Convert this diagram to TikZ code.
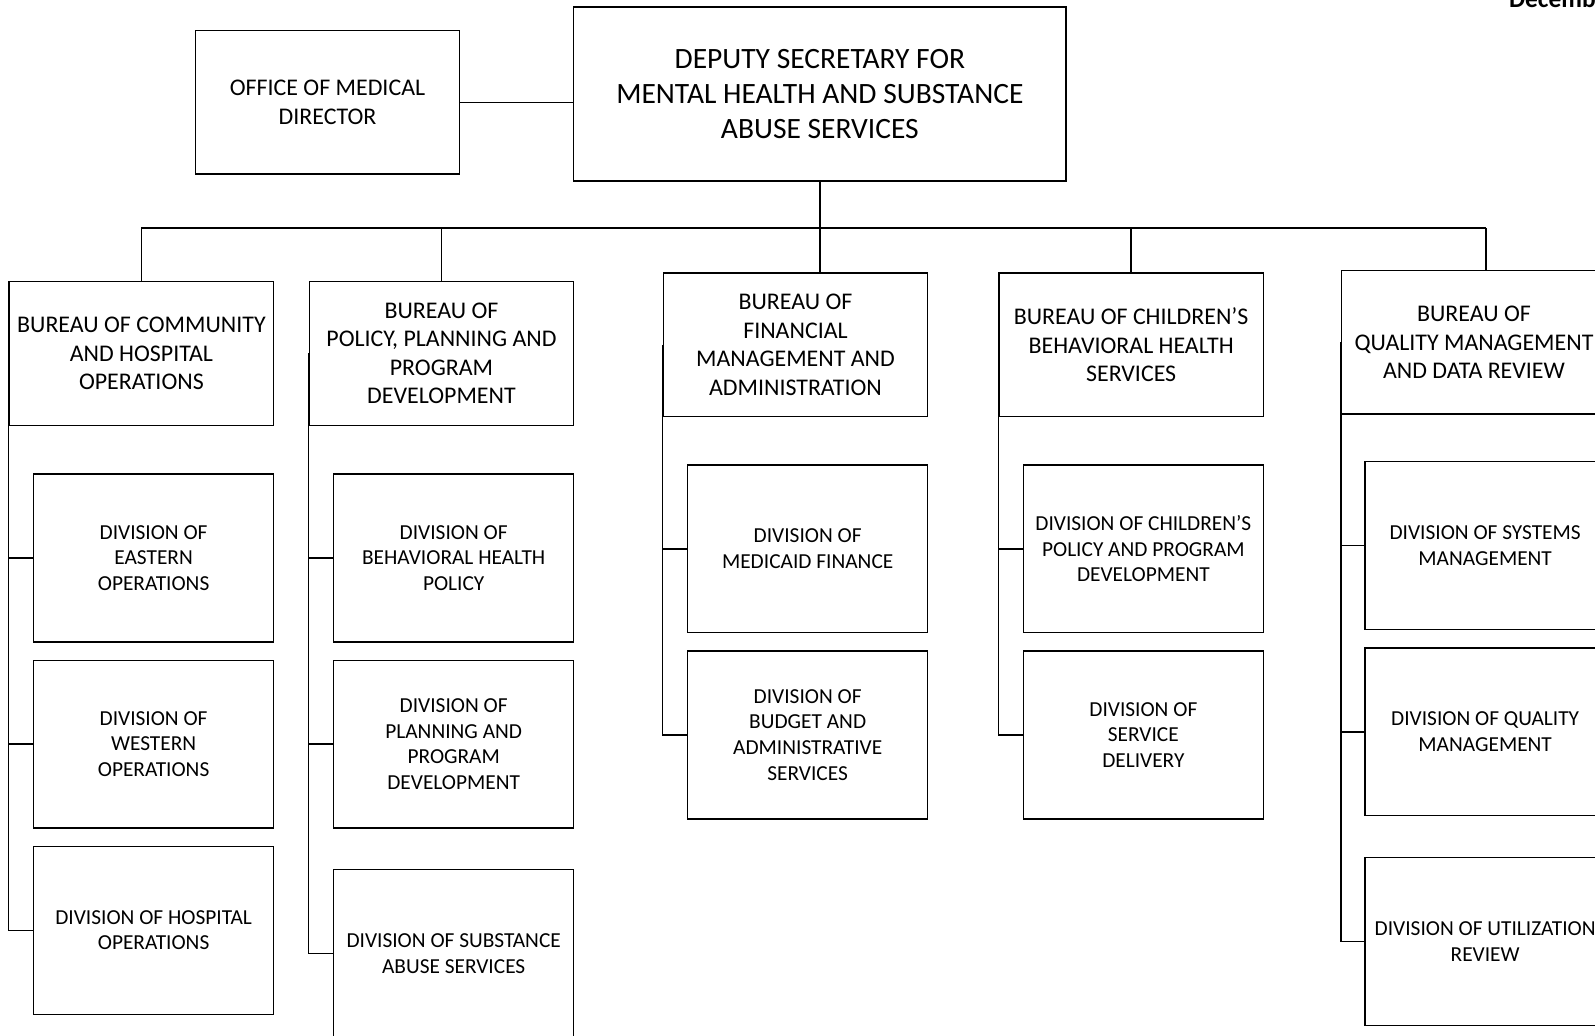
\documentclass[tikz,border=0pt]{standalone}
\usepackage{fontspec}
\setmainfont{Carlito}
\tikzset{
	box/.style={draw,line width=1.3pt,inner sep=0pt,align=center},
	topbox/.style={box,minimum width=484pt,minimum height=171pt,font=\fontsize{29}{34}\selectfont},
	officebox/.style={box,minimum width=260pt,minimum height=141pt,font=\fontsize{23.5}{29}\selectfont},
	bureaubox/.style={box,minimum width=260pt,minimum height=141pt,font=\fontsize{23.5}{28}\selectfont},
	divbox/.style={box,minimum width=236pt,minimum height=165pt,font=\fontsize{21}{25.3}\selectfont},
	conn/.style={line width=1.4pt}
}
\begin{document}
\begin{tikzpicture}[x=1pt,y=-1pt]
	\useasboundingbox (0,0) rectangle (1568,1017.5);
	\clip (0,0) rectangle (1568,1017.5);
	\node[anchor=base west,font=\fontsize{25}{30}\selectfont\bfseries] (date) at (1480,7.5) {December};
	% top level
	\node[topbox] (dep) at (806,92.5) {DEPUTY SECRETARY FOR\\MENTAL HEALTH AND SUBSTANCE\\ABUSE SERVICES};
	\node[officebox] (med) at (322,100.5) {OFFICE OF MEDICAL\\DIRECTOR};
	\draw[conn] (med.east) -- (med.east -| dep.west);
	% bureaus
	\node[bureaubox] (b1) at (139,347.5) {BUREAU OF COMMUNITY\\AND HOSPITAL\\OPERATIONS};
	\node[bureaubox] (b2) at (434,347.5) {BUREAU OF\\POLICY, PLANNING AND\\PROGRAM\\DEVELOPMENT};
	\node[bureaubox] (b3) at (782,339) {BUREAU OF\\FINANCIAL\\MANAGEMENT AND\\ADMINISTRATION};
	\node[bureaubox] (b4) at (1112,339) {BUREAU OF CHILDREN’S\\BEHAVIORAL HEALTH\\SERVICES};
	\node[bureaubox] (b5) at (1449,336.5) {BUREAU OF\\QUALITY MANAGEMENT\\AND DATA REVIEW};
	\coordinate (j1) at (139,224);
	\coordinate (j3) at (806,224);
	\coordinate (j5) at (1461,224);
	\draw[line width=2.6pt] (dep.south) -- (j3);
	\draw[line width=1.8pt] (j1) -- (j5);
	\draw[conn] (j1) -- (b1.north);
	\draw[conn] (b2.north |- j1) -- (b2.north);
	\draw[conn] (j3) -- (j3 |- b3.north);
	\draw[conn] (b4.north |- j1) -- (b4.north);
	\draw[conn] (j5) -- (j5 |- b5.north);
	% divisions
	\node[divbox] (d11) at (151,548.5) {DIVISION OF\\EASTERN\\OPERATIONS};
	\node[divbox] (d12) at (151,731.5) {DIVISION OF\\WESTERN\\OPERATIONS};
	\node[divbox] (d13) at (151,914.5) {DIVISION OF HOSPITAL\\OPERATIONS};
	\node[divbox] (d21) at (446,548.5) {DIVISION OF\\BEHAVIORAL HEALTH\\POLICY};
	\node[divbox] (d22) at (446,731.5) {DIVISION OF\\PLANNING AND\\PROGRAM\\DEVELOPMENT};
	\node[divbox] (d23) at (446,937.5) {DIVISION OF SUBSTANCE\\ABUSE SERVICES};
	\node[divbox] (d31) at (794,539.5) {DIVISION OF\\MEDICAID FINANCE};
	\node[divbox] (d32) at (794,722.5) {DIVISION OF\\BUDGET AND\\ADMINISTRATIVE\\SERVICES};
	\node[divbox] (d41) at (1124,539.5) {DIVISION OF CHILDREN’S\\POLICY AND PROGRAM\\DEVELOPMENT};
	\node[divbox] (d42) at (1124,722.5) {DIVISION OF\\SERVICE\\DELIVERY};
	\node[divbox] (d51) at (1460,536.5) {DIVISION OF SYSTEMS\\MANAGEMENT};
	\node[divbox] (d52) at (1460,719.5) {DIVISION OF QUALITY\\MANAGEMENT};
	\node[divbox] (d53) at (1460,925.5) {DIVISION OF UTILIZATION\\REVIEW};
	% trunks
	\draw[conn] (b1.west) -- (b1.west |- d13.west) -- (d13.west);
	\draw[conn] (b2.west) -- (b2.west |- d23.west) -- (d23.west);
	\draw[conn] (b3.west) -- (b3.west |- d32.west) -- (d32.west);
	\draw[conn] (b4.west) -- (b4.west |- d42.west) -- (d42.west);
	\draw[conn] (b5.west) -- (b5.west |- d53.west) -- (d53.west);
	\foreach \b/\d in {b1/d11,b1/d12,b2/d21,b2/d22,b3/d31,b4/d41,b5/d51,b5/d52}
		\draw[conn] (\b.west |- \d.west) -- (\d.west);
\end{tikzpicture}
\end{document}
